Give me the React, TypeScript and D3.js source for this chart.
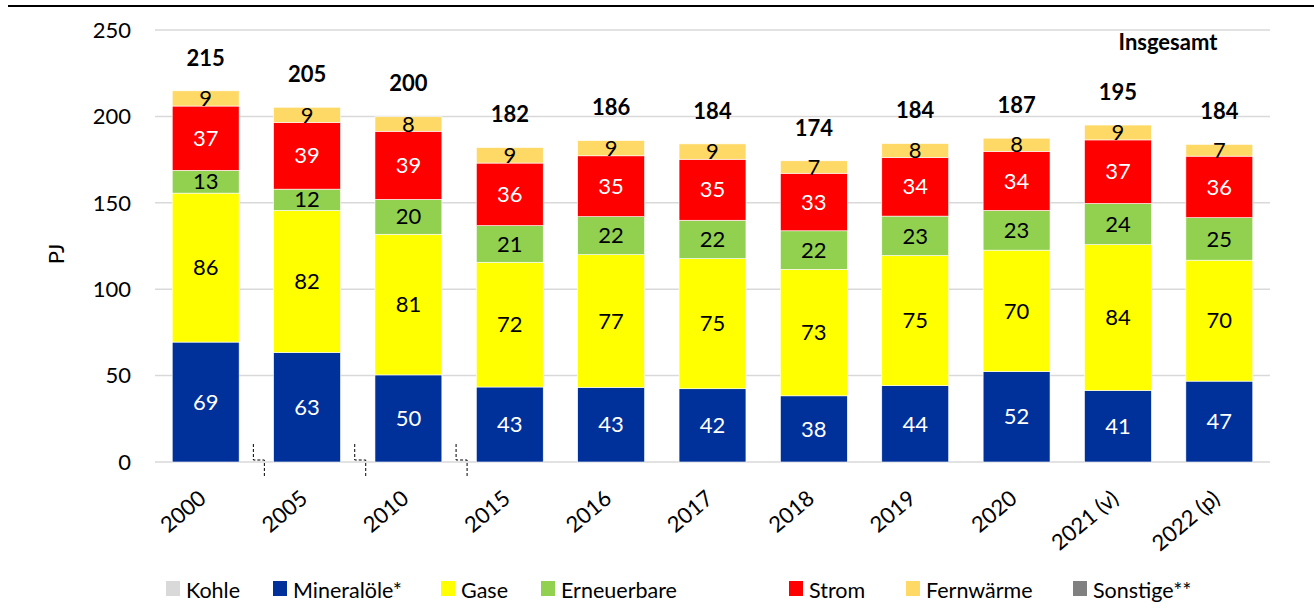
import * as d3 from "d3";
import React from "react";

const years = ["2000", "2005", "2010", "2015", "2016", "2017", "2018", "2019", "2020", "2021 (v)", "2022 (p)"];
const mineraloele = [69.4, 63.4, 50.4, 43.4, 43.2, 42.4, 38.3, 44.2, 52.4, 41.4, 46.8];
const gase = [86.2, 82.2, 81.4, 72.2, 76.8, 75.3, 73.2, 75.3, 70.2, 84.4, 70.0];
const erneuerbare = [13.2, 12.3, 20.2, 21.2, 22.0, 22.2, 22.3, 22.8, 23.0, 23.8, 24.6];
const strom = [37.2, 38.6, 39.4, 36.2, 35.2, 35.3, 33.3, 34.0, 34.2, 36.8, 35.6];
const fernwaerme = [8.8, 8.8, 8.4, 9.0, 8.8, 8.9, 7.2, 8.0, 7.6, 8.6, 6.8];
const totals = [215, 205, 200, 182, 186, 184, 174, 184, 187, 195, 184];
const yTicks = [0, 50, 100, 150, 200, 250];

const SERIES = [
  { key: "Mineralöle*", values: mineraloele, color: "#00309a", text: "#fff" },
  { key: "Gase", values: gase, color: "#ffff00", text: "#000" },
  { key: "Erneuerbare", values: erneuerbare, color: "#92d050", text: "#000" },
  { key: "Strom", values: strom, color: "#ff0000", text: "#fff" },
  { key: "Fernwärme", values: fernwaerme, color: "#ffd966", text: "#000" },
];

const LEGEND = [
  { label: "Kohle", color: "#d9d9d9", x: 166 },
  { label: "Mineralöle*", color: "#00309a", x: 273 },
  { label: "Gase", color: "#ffff00", x: 441 },
  { label: "Erneuerbare", color: "#92d050", x: 541 },
  { label: "Strom", color: "#ff0000", x: 789 },
  { label: "Fernwärme", color: "#ffd966", x: 906 },
  { label: "Sonstige**", color: "#808080", x: 1073 },
];

const FONT = "Lato, 'Open Sans', sans-serif";

export default function App() {
  const W = 1314;
  const H = 612;
  const x = d3.scaleBand<string>().domain(years).range([155, 1270]).paddingInner(0.34).paddingOuter(0.17);
  const y = d3.scaleLinear().domain([0, 250]).range([462, 30]);

  const rows = years.map((yr, i) => {
    const o: Record<string, number | string> = { year: yr };
    SERIES.forEach((s) => (o[s.key] = s.values[i]));
    return o;
  });
  const stack = d3.stack<any>().keys(SERIES.map((s) => s.key));
  const layers = stack(rows);
  const step = x.step();
  const breaks = [1, 2, 3].map((k) => (x(years[k]) as number) - (step - x.bandwidth()) / 2);

  return (
    <svg width={W} height={H} style={{ position: "absolute", left: 0, top: 0, fontFamily: FONT }}>
      <rect width={W} height={H} fill="#fff" />
      <line x1={8} x2={W} y1={6} y2={6} stroke="#000" strokeWidth={2} />
      {yTicks.map((t) => (
        <g key={t}>
          <line x1={155} x2={1270} y1={y(t)} y2={y(t)} stroke="#d9d9d9" strokeWidth={1.5} />
          <text x={131} y={y(t)} dy="0.35em" textAnchor="end" fontSize={22} fill="#000">
            {t}
          </text>
        </g>
      ))}
      <text transform="translate(56,254) rotate(-90)" textAnchor="middle" dy="0.35em" fontSize={22}>
        PJ
      </text>
      {layers.map((layer, li) => (
        <g key={layer.key}>
          {layer.map((d, i) => {
            const x0 = x(years[i]) as number;
            const y0 = y(d[1]);
            const h = y(d[0]) - y(d[1]);
            const v = SERIES[li].values[i];
            return (
              <g key={i}>
                <rect x={x0} y={y0} width={x.bandwidth()} height={h} fill={SERIES[li].color} stroke="#fff" strokeWidth={0.6} />
                <text
                  x={x0 + x.bandwidth() / 2}
                  y={y0 + h / 2}
                  dy="0.35em"
                  textAnchor="middle"
                  fontSize={22}
                  fill={SERIES[li].text}
                >
                  {Math.round(v)}
                </text>
              </g>
            );
          })}
        </g>
      ))}
      {years.map((yr, i) => {
        const top = layers[layers.length - 1][i][1];
        return (
          <text
            key={yr}
            x={(x(yr) as number) + x.bandwidth() / 2}
            y={y(top) - 33}
            dy="0.35em"
            textAnchor="middle"
            fontSize={22}
            fontWeight={700}
          >
            {totals[i]}
          </text>
        );
      })}
      <text x={1168} y={42} dy="0.35em" textAnchor="middle" fontSize={22} fontWeight={700}>
        Insgesamt
      </text>
      {breaks.map((b, i) => (
        <path
          key={i}
          d={`M${b - 3},444 V460 H${b + 8} V477`}
          fill="none"
          stroke="#000"
          strokeWidth={1}
          strokeDasharray="3 2"
        />
      ))}
      {years.map((yr) => {
        const cx = (x(yr) as number) + x.bandwidth() / 2;
        return (
          <text
            key={yr}
            transform={`translate(${cx - 3},${495}) rotate(-40)`}
            textAnchor="end"
            dy="0.35em"
            fontSize={22}
          >
            {yr}
          </text>
        );
      })}
      {LEGEND.map((l) => (
        <g key={l.label}>
          <rect x={l.x} y={581} width={14} height={15} fill={l.color} />
          <text x={l.x + 20} y={590} dy="0.35em" fontSize={21.5}>
            {l.label}
          </text>
        </g>
      ))}
    </svg>
  );
}
